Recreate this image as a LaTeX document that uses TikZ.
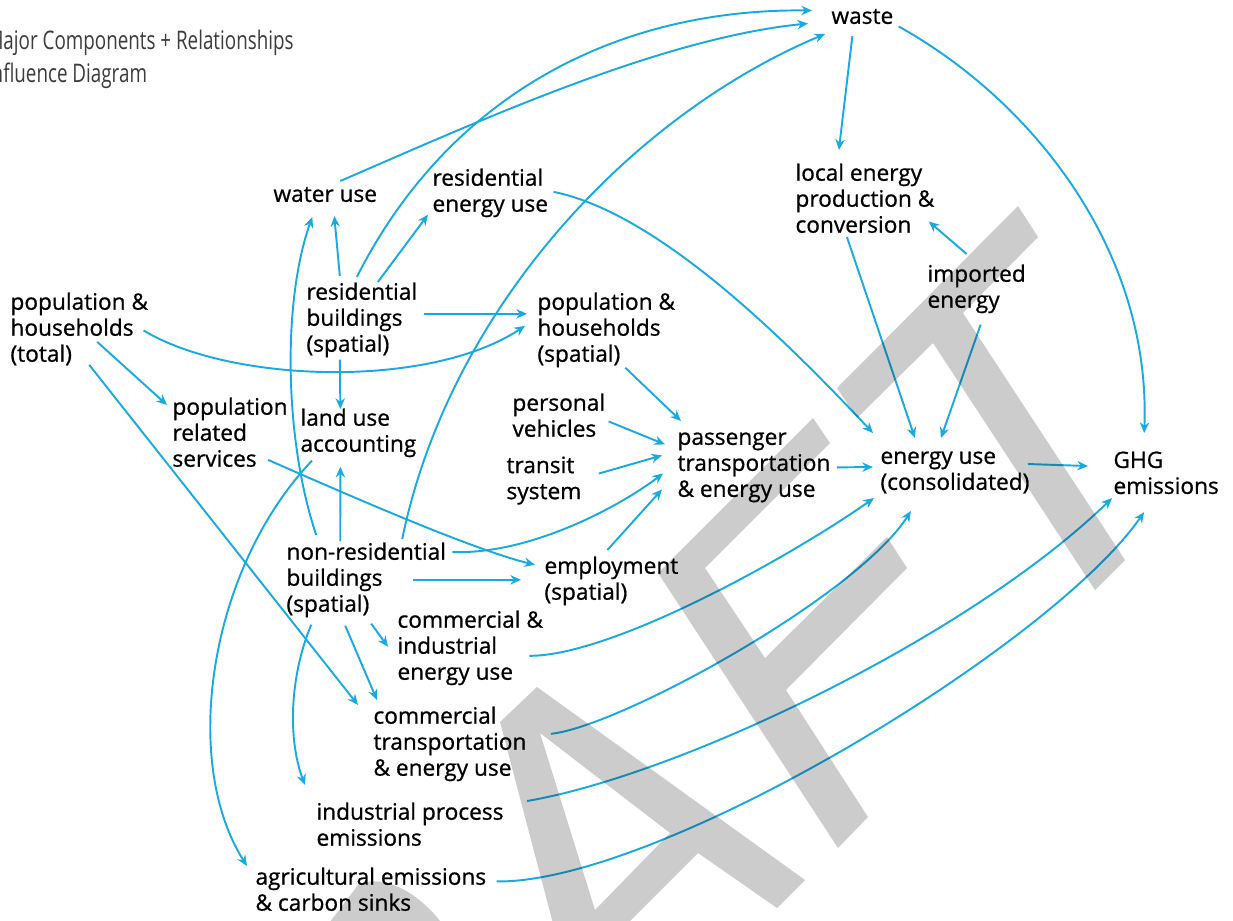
\documentclass[tikz,border=0pt]{standalone}
\usepackage{fontspec}
\setmainfont{Open Sans}
\newfontfamily\boxfont[FakeBold=0.8]{Open Sans}
\newfontfamily\titlefont[FakeStretch=0.735]{Open Sans}
\usetikzlibrary{arrows.meta,calc}

\definecolor{linkblue}{RGB}{27,170,224}
\definecolor{titlegrey}{RGB}{60,60,60}

\tikzset{every picture/.style={line width=0.75pt}}
\tikzset{
  box/.style={anchor=north west, inner sep=0pt, align=left,
    font=\boxfont\fontsize{17}{19.5}\selectfont,
    execute at begin node={\rule{0pt}{16pt}},
    execute at end node={\rule[-3.5pt]{0pt}{0pt}}},
  heading/.style={anchor=north west, inner sep=0pt, align=left, text=titlegrey,
    font=\titlefont\fontsize{19.2}{24.75}\selectfont, execute at begin node=\strut},
  link/.style={color=linkblue, line width=1.45pt,
    -{Stealth[length=8pt,width=7pt,inset=2.6pt]}},
  draft/.style={fill=black, fill opacity=0.2, even odd rule},
}

\begin{document}
\begin{tikzpicture}[x=0.75pt,y=0.75pt,yscale=-1,xscale=1]
\useasboundingbox (0,0) rectangle (1233,921);
\clip (0,0) rectangle (1233,921);

% Text Node
\draw (-14,30) node [heading] (heading) {Major Components + Relationships\\Influence Diagram};

% Text Node
\draw (831,2) node [box] (waste) {waste};
% Text Node
\draw (795,163) node [box] (local) {local energy\\production \&\\conversion};
% Text Node
\draw (927,264) node [box] (imported) {imported\\energy};
% Text Node
\draw (273,180) node [box] (water) {water use};
% Text Node
\draw (432,168) node [box] (resenergy) {residential\\energy use};
% Text Node
\draw (306,282) node [box] (resbuild) {residential\\buildings\\(spatial)};
% Text Node
\draw (10,292) node [box] (poptotal) {population \&\\households\\(total)};
% Text Node
\draw (537,292) node [box] (popspatial) {population \&\\households\\(spatial)};
% Text Node
\draw (172,397) node [box] (popservices) {population\\related\\services};
% Text Node
\draw (300,408) node [box] (landuse) {land use\\accounting};
% Text Node
\draw (512,393) node [box] (vehicles) {personal\\vehicles};
% Text Node
\draw (506,456) node [box] (transit) {transit\\system};
% Text Node
\draw (677,432) node [box] (passenger) {passenger\\transportation\\\& energy use};
% Text Node
\draw (880,451) node [box] (energy) {energy use\\(consolidated)};
% Text Node
\draw (1113,451) node [box] (ghg) {GHG\\emissions};
% Text Node
\draw (286,542) node [box] (nonres) {non-residential\\buildings\\(spatial)};
% Text Node
\draw (544,556) node [box] (employment) {employment\\(spatial)};
% Text Node
\draw (397,610) node [box] (comind) {commercial \&\\industrial\\energy use};
% Text Node
\draw (373,706) node [box] (comtrans) {commercial\\transportation\\\& energy use};
% Text Node
\draw (316,802) node [box] (indproc) {industrial process\\emissions};
% Text Node
\draw (255,867) node [box] (agri) {agricultural emissions\\\& carbon sinks};

%Curve Lines
\draw [link] ($(resbuild.north)+(-5,-5)$) .. controls +(90,-178) and +(-200,-2) .. ($(waste.west)+(-19,-5)$);
%Curve Lines
\draw [link] ($(water.north)+(15,1)$) .. controls +(130,-56) and +(-150,15) .. ($(waste.west)+(-23,8)$);
%Curve Lines
\draw [link] ($(nonres.north)+(36,-3)$) .. controls +(47,-229) and +(-195,82) .. ($(waste.south west)+(-6,5)$);
%Straight Lines
\draw [link] ($(waste.south)+(-10,7)$) -- ($(local.north)+(-26,-13)$);
%Curve Lines
\draw [link] ($(waste.east)+(5,11)$) .. controls +(133,74) and +(7,-183) .. ($(ghg.north)+(-22,-18)$);
%Straight Lines
\draw [link] ($(imported.north)+(-10,-10)$) -- ($(local.east)+(-6,21)$);
%Straight Lines
\draw [link] ($(local.south)+(-18,-1)$) -- ($(energy.north)+(-40,-13)$);
%Straight Lines
\draw [link] ($(imported.south)+(4,11)$) -- ($(energy.north)+(-14,-13)$);
%Curve Lines
\draw [link] ($(resenergy.east)+(5,-1)$) .. controls +(108,22) and +(-80,-85) .. ($(energy.north west)+(-7,-18)$);
%Straight Lines
\draw [link] ($(energy.east)+(-2,-9)$) -- ($(ghg.west)+(-25,-9)$);
%Straight Lines
\draw [link] ($(passenger.east)+(6,0)$) -- ($(energy.west)+(-7,-6)$);
%Curve Lines
\draw [link] ($(comind.east)+(-14,8)$) .. controls +(83,0) and +(-84,59) .. ($(energy.south west)+(-6,3)$);
%Curve Lines
\draw [link] ($(comtrans.east)+(24,-10)$) .. controls +(68,-7) and +(-55,86) .. ($(energy.south)+(-44,16)$);
%Curve Lines
\draw [link] ($(indproc.north east)+(23,-1)$) .. controls +(153,-26) and +(-142,138) .. ($(ghg.south west)+(-1,-1)$);
%Curve Lines
\draw [link] ($(agri.east)+(10,-10)$) .. controls +(162,2) and +(-93,134) .. ($(ghg.south)+(-22,13)$);
%Straight Lines
\draw [link] ($(poptotal.south)+(18,-25)$) -- ($(popservices.north west)+(-5,8)$);
%Straight Lines
\draw [link] ($(poptotal.south)+(10,-2)$) -- ($(comtrans.north west)+(-15,-1)$);
%Curve Lines
\draw [link] ($(poptotal.east)+(-5,1)$) .. controls +(88,53) and +(-95,63) .. ($(popspatial.west)+(-12,-4)$);
%Straight Lines
\draw [link] ($(resbuild.east)+(6,-6)$) -- ($(popspatial.west)+(-10,-16)$);
%Straight Lines
\draw [link] ($(resbuild.north)+(-22,-6)$) -- ($(water.south)+(9,9)$);
%Straight Lines
\draw [link] ($(resbuild.north)+(16,0)$) -- ($(resenergy.south west)+(-4,-3)$);
%Straight Lines
\draw [link] ($(resbuild.south)+(-22,2)$) -- ($(landuse.north)+(-18,1)$);
%Curve Lines
\draw [link] ($(nonres.north)+(-50,-7)$) .. controls +(-32,-95) and +(-30,84) .. ($(water.south)+(-13,10)$);
%Straight Lines
\draw [link] ($(nonres.north)+(-26,-1)$) -- ($(landuse.south)+(-18,9)$);
%Curve Lines
\draw [link] ($(popservices.south east)+(-20,-12)$) .. controls +(73,32) and +(-65,-16) .. ($(employment.west)+(-9,-16)$);
%Curve Lines
\draw [link] ($(landuse.south west)+(12,3)$) .. controls +(-102,107) and +(-67,-106) .. ($(agri.north west)+(-8,-1)$);
%Curve Lines
\draw [link] ($(nonres.north east)+(6,10)$) .. controls +(77,3) and +(-43,33) .. ($(passenger.west)+(-14,6)$);
%Straight Lines
\draw [link] ($(nonres.east)+(-33,0)$) -- ($(employment.west)+(-23,-1)$);
%Straight Lines
\draw [link] ($(nonres.south)+(5,6)$) -- ($(comind.west)+(-9,-1)$);
%Straight Lines
\draw [link] ($(nonres.south)+(-21,8)$) -- ($(comtrans.north west)+(4,-6)$);
%Curve Lines
\draw [link] ($(nonres.south)+(-55,7)$) .. controls +(-22,53) and +(-17,-45) .. ($(indproc.north west)+(-11,-17)$);
%Straight Lines
\draw [link] ($(vehicles.east)+(3,4)$) -- ($(passenger.west)+(-12,-23)$);
%Straight Lines
\draw [link] ($(transit.east)+(17,-7)$) -- ($(passenger.west)+(-15,-12)$);
%Straight Lines
\draw [link] ($(employment.north)+(-4,-6)$) -- ($(passenger.west)+(-15,22)$);
%Straight Lines
\draw [link] ($(popspatial.south)+(19,0)$) -- ($(passenger.north west)+(4,-11)$);

%Shape: Polygon (watermark, R)
\fill [draft] (320,935) -- (358,885) .. controls (385,872) and (425,895) .. (450,935) -- cycle;
%Shape: Polygon (watermark, A)
\fill [draft] (500,722) -- (537,687) -- (805,880) -- (777,908) -- (698,853) -- (616,935) -- (556,935) -- cycle
  (540,733) -- (670,833) -- (595,910) -- cycle;
%Shape: Polygon (watermark, F)
\fill [draft] (658,573) -- (813,418) -- (830,443) -- (705,568) -- (765,658) -- (887,537) -- (907,568) -- (786,690) -- (868,817) -- (838,848) -- cycle;
%Shape: Polygon (watermark, T)
\fill [draft] (837,388) -- (1018,206) -- (1038,237) -- (963,313) -- (1125,560) -- (1095,590) -- (933,343) -- (857,418) -- cycle;

\end{tikzpicture}
\end{document}
